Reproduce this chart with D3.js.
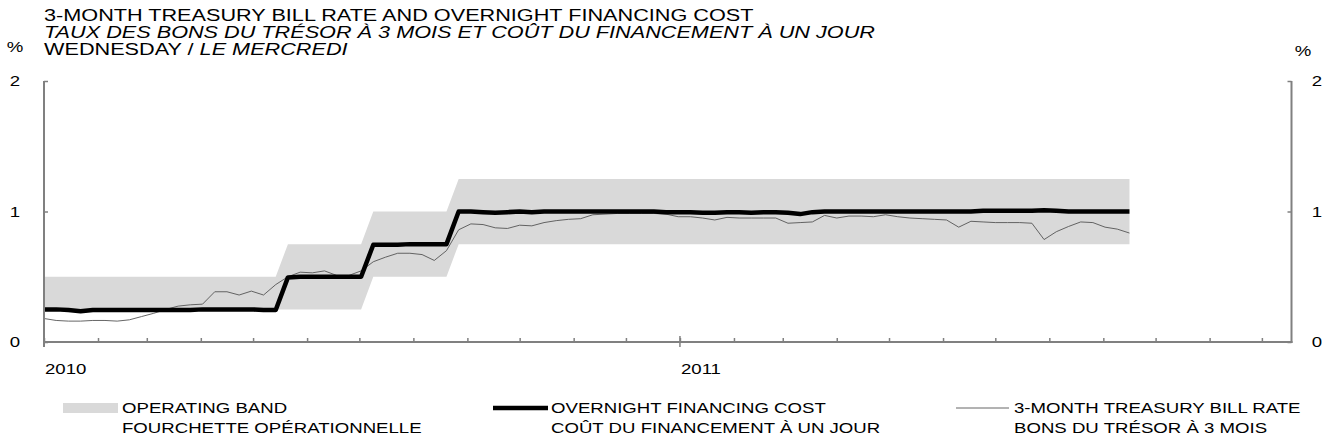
<!DOCTYPE html>
<html>
<head>
<meta charset="utf-8">
<script src="https://cdn.jsdelivr.net/npm/d3@7"></script>
<style>
  body { margin: 0; background: #fff; }
  svg { display: block; font-family: "Liberation Sans", Arial, sans-serif; }
</style>
</head>
<body>
<svg width="1326" height="442"></svg>
<script>
// weekly observations, first one on 1 Jan 2010
const startDate = new Date(2010, 0, 1);
const nWeeks = 90;

const bandLow = [
  0.25,0.25,0.25,0.25,0.25,0.25,0.25,0.25,0.25,0.25,
  0.25,0.25,0.25,0.25,0.25,0.25,0.25,0.25,0.25,0.25,
  0.25,0.25,0.25,0.25,0.25,0.25,0.25,0.5,0.5,0.5,
  0.5,0.5,0.5,0.5,0.75,0.75,0.75,0.75,0.75,0.75,
  0.75,0.75,0.75,0.75,0.75,0.75,0.75,0.75,0.75,0.75,
  0.75,0.75,0.75,0.75,0.75,0.75,0.75,0.75,0.75,0.75,
  0.75,0.75,0.75,0.75,0.75,0.75,0.75,0.75,0.75,0.75,
  0.75,0.75,0.75,0.75,0.75,0.75,0.75,0.75,0.75,0.75,
  0.75,0.75,0.75,0.75,0.75,0.75,0.75,0.75,0.75,0.75
];
const bandHigh = [
  0.5,0.5,0.5,0.5,0.5,0.5,0.5,0.5,0.5,0.5,
  0.5,0.5,0.5,0.5,0.5,0.5,0.5,0.5,0.5,0.5,
  0.75,0.75,0.75,0.75,0.75,0.75,0.75,1.0,1.0,1.0,
  1.0,1.0,1.0,1.0,1.25,1.25,1.25,1.25,1.25,1.25,
  1.25,1.25,1.25,1.25,1.25,1.25,1.25,1.25,1.25,1.25,
  1.25,1.25,1.25,1.25,1.25,1.25,1.25,1.25,1.25,1.25,
  1.25,1.25,1.25,1.25,1.25,1.25,1.25,1.25,1.25,1.25,
  1.25,1.25,1.25,1.25,1.25,1.25,1.25,1.25,1.25,1.25,
  1.25,1.25,1.25,1.25,1.25,1.25,1.25,1.25,1.25,1.25
];
const overnight = [
  0.25,0.25,0.245,0.235,0.245,0.245,0.245,0.245,0.245,0.245,
  0.245,0.245,0.245,0.25,0.25,0.25,0.25,0.25,0.245,0.245,
  0.495,0.5,0.5,0.5,0.5,0.5,0.5,0.745,0.745,0.745,
  0.75,0.75,0.75,0.75,1.0,1.0,0.995,0.99,0.995,1.0,
  0.995,1.0,1.0,1.0,1.0,1.0,1.0,1.0,1.0,1.0,
  1.0,0.995,0.995,0.995,0.99,0.99,0.995,0.995,0.99,0.995,
  0.995,0.99,0.98,0.995,1.0,1.0,1.0,1.0,1.0,1.0,
  1.0,1.0,1.0,1.0,1.0,1.0,1.0,1.005,1.005,1.005,
  1.005,1.005,1.01,1.005,1.0,1.0,1.0,1.0,1.0,1.0
];
const tbill = [
  0.18,0.165,0.16,0.16,0.165,0.165,0.16,0.17,0.195,0.22,
  0.25,0.275,0.285,0.29,0.385,0.385,0.36,0.39,0.36,0.44,
  0.5,0.535,0.53,0.545,0.51,0.51,0.545,0.615,0.65,0.68,
  0.68,0.67,0.625,0.7,0.86,0.905,0.9,0.875,0.87,0.895,
  0.89,0.915,0.93,0.94,0.945,0.975,0.98,0.985,0.985,0.985,
  0.985,0.98,0.96,0.96,0.95,0.935,0.955,0.95,0.95,0.95,
  0.95,0.91,0.915,0.92,0.97,0.95,0.965,0.965,0.96,0.975,
  0.96,0.95,0.945,0.94,0.935,0.88,0.925,0.92,0.915,0.915,
  0.915,0.91,0.785,0.845,0.885,0.92,0.915,0.88,0.865,0.835
];

const yTicks = [0, 1, 2];
const titleLines = [
  {text: '3-MONTH TREASURY BILL RATE AND OVERNIGHT FINANCING COST', italic: false},
  {text: 'TAUX DES BONS DU TRÉSOR À 3 MOIS ET COÛT DU FINANCEMENT À UN JOUR', italic: true}
];
const legendItems = [
  {en: 'OPERATING BAND', fr: 'FOURCHETTE OPÉRATIONNELLE', kind: 'band'},
  {en: 'OVERNIGHT FINANCING COST', fr: 'COÛT DU FINANCEMENT À UN JOUR', kind: 'overnight'},
  {en: '3-MONTH TREASURY BILL RATE', fr: 'BONS DU TRÉSOR À 3 MOIS', kind: 'tbill'}
];

const dates = d3.range(nWeeks).map(i => d3.timeDay.offset(startDate, 7 * i));
const rows = dates.map((d, i) => ({date: d, lo: bandLow[i], hi: bandHigh[i], on: overnight[i], tb: tbill[i]}));

const plotLeft = 44, plotRight = 1291.5, plotTop = 81, plotBottom = 342;
const axisColor = '#808080';
const fontSize = 14;
const titleSize = 16.3;
const stretch = 1.33; // the original artwork is wider than tall, text included

const svg = d3.select('svg');

// text placed with a horizontal stretch
function at(x, y) { return `translate(${x},${y}) scale(${stretch},1)`; }

const x = d3.scaleTime()
  .domain([new Date(2010, 0, 1), new Date(2011, 11, 18)])
  .range([plotLeft, plotRight]);
const y = d3.scaleLinear().domain([0, 2]).range([plotBottom, plotTop]);

// operating band
svg.append('path')
  .datum(rows)
  .attr('fill', '#d9d9d9')
  .attr('d', d3.area().x(d => x(d.date)).y0(d => y(d.lo)).y1(d => y(d.hi)));

// t-bill
svg.append('path')
  .datum(rows)
  .attr('fill', 'none')
  .attr('stroke', '#555')
  .attr('stroke-width', 0.9)
  .attr('d', d3.line().x(d => x(d.date)).y(d => y(d.tb)));

// overnight
svg.append('path')
  .datum(rows)
  .attr('fill', 'none')
  .attr('stroke', '#000')
  .attr('stroke-width', 4.5)
  .attr('stroke-linejoin', 'round')
  .attr('d', d3.line().x(d => x(d.date)).y(d => y(d.on)));

// x axis: month ticks pointing up
const xAxis = svg.append('g')
  .attr('transform', `translate(0,${plotBottom})`)
  .call(d3.axisBottom(x).ticks(d3.timeMonth.every(1)).tickSizeInner(-4).tickSizeOuter(0).tickFormat(''));
xAxis.select('.domain').attr('stroke', axisColor).attr('stroke-width', 2)
  .attr('d', `M${plotLeft - 1},0H${plotRight + 1}`);
xAxis.selectAll('.tick line').attr('stroke', axisColor).attr('stroke-width', 1.5);

// year ticks cross the axis
const years = x.ticks(d3.timeYear.every(1));
svg.append('g').selectAll('line').data(years).join('line')
  .attr('x1', d => x(d)).attr('x2', d => x(d))
  .attr('y1', plotBottom - 6).attr('y2', plotBottom + 5)
  .attr('stroke', axisColor).attr('stroke-width', 1.5);
svg.append('g').selectAll('text').data(years).join('text')
  .attr('transform', d => at(x(d) + 1, plotBottom + 32))
  .attr('font-size', fontSize)
  .text(d3.timeFormat('%Y'));

// y axes
const yLeft = svg.append('g')
  .attr('transform', `translate(${plotLeft},0)`)
  .call(d3.axisRight(y).tickValues(yTicks).tickSize(4).tickFormat(''));
const yRight = svg.append('g')
  .attr('transform', `translate(${plotRight},0)`)
  .call(d3.axisLeft(y).tickValues(yTicks).tickSize(4).tickFormat(''));
[yLeft, yRight].forEach(g => {
  g.select('.domain').attr('stroke', axisColor).attr('stroke-width', 2)
    .attr('d', `M0,${plotTop}V${plotBottom + (g === yLeft ? 5 : 1)}`);
  g.selectAll('.tick line').attr('stroke', axisColor).attr('stroke-width', 1.5);
});

svg.append('g').selectAll('text').data(yTicks).join('text')
  .attr('transform', d => at(15, y(d) + 5))
  .attr('text-anchor', 'middle').attr('font-size', fontSize)
  .text(d => d);
svg.append('g').selectAll('text').data(yTicks).join('text')
  .attr('transform', d => at(1317, y(d) + 5))
  .attr('text-anchor', 'middle').attr('font-size', fontSize)
  .text(d => d);

svg.append('text').attr('transform', at(15, 52)).attr('text-anchor', 'middle')
  .attr('font-size', fontSize).text('%');
svg.append('text').attr('transform', at(1303, 56)).attr('text-anchor', 'middle')
  .attr('font-size', fontSize).text('%');

// titles
svg.append('g').selectAll('text').data(titleLines).join('text')
  .attr('transform', (d, i) => at(plotLeft, 21 + i * 17))
  .attr('font-size', titleSize)
  .attr('font-style', d => d.italic ? 'italic' : 'normal')
  .text(d => d.text);
const sub = svg.append('text').attr('transform', at(plotLeft, 55)).attr('font-size', titleSize);
sub.append('tspan').text('WEDNESDAY / ');
sub.append('tspan').attr('font-style', 'italic').text('LE MERCREDI');

// legend
const legendX = [63, 493, 956];
const leg = svg.append('g').selectAll('g').data(legendItems).join('g')
  .attr('transform', (d, i) => `translate(${legendX[i]},0)`);
leg.each(function(d) {
  const g = d3.select(this);
  if (d.kind === 'band') {
    g.append('rect').attr('x', 0).attr('y', 403).attr('width', 55).attr('height', 10).attr('fill', '#d9d9d9');
  } else if (d.kind === 'overnight') {
    g.append('line').attr('x1', 0).attr('x2', 55).attr('y1', 408).attr('y2', 408)
      .attr('stroke', '#000').attr('stroke-width', 4.5);
  } else {
    g.append('line').attr('x1', 0).attr('x2', 53).attr('y1', 408).attr('y2', 408)
      .attr('stroke', '#555').attr('stroke-width', 0.9);
  }
});
leg.append('text').attr('transform', d => at(d.kind === 'band' ? 59 : 58, 413))
  .attr('font-size', fontSize).text(d => d.en);
leg.append('text').attr('transform', d => at(d.kind === 'band' ? 59 : 58, 433))
  .attr('font-size', fontSize).text(d => d.fr);
</script>
</body>
</html>
